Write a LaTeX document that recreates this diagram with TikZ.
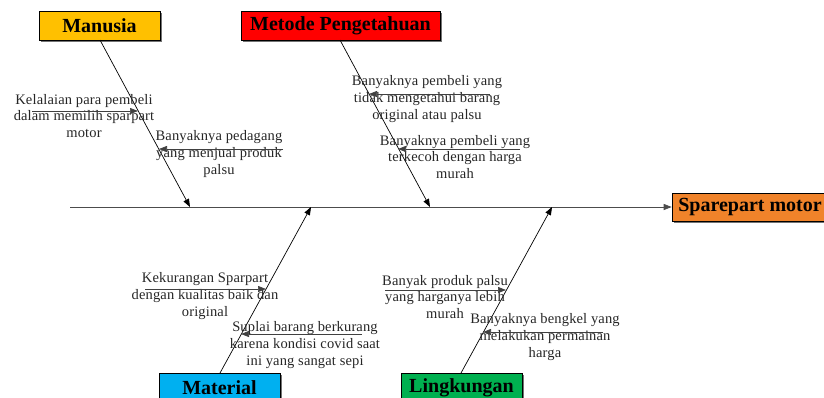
\documentclass[tikz,border=0pt]{standalone}
\usepackage{fontspec}
\setmainfont{Liberation Serif}
\newfontfamily\lblfont[LetterSpace=1]{Liberation Serif}
\usetikzlibrary{arrows.meta,shadows}
\definecolor{cman}{HTML}{FFC000}
\definecolor{cmet}{HTML}{FF0000}
\definecolor{cmat}{HTML}{00B0F0}
\definecolor{cling}{HTML}{00B050}
\definecolor{cspr}{HTML}{F0832A}
\tikzset{
  catbox/.style={draw=black, line width=0.6pt, minimum height=29pt, inner sep=0pt,
    font=\fontsize{20}{22}\selectfont\bfseries,
    drop shadow={shadow xshift=1.5pt, shadow yshift=-1.5pt, fill=black!55, opacity=1}},
  bone/.style={draw=black, line width=0.7pt, -{Triangle[length=8pt,width=6pt]}},
  rib/.style={draw=black!75, line width=0.7pt, -{Triangle[length=8pt,width=6pt]}},
  spine/.style={draw=black!70, line width=0.8pt, -{Triangle[length=8pt,width=6pt]}},
  lbl/.style={align=center, inner sep=0pt, font=\lblfont\fontsize{14.5}{16.6}\selectfont, text=black!85}
}
\begin{document}
\begin{tikzpicture}[x=1pt,y=-1pt]
\useasboundingbox (0,0) rectangle (824,397);
% category boxes
\node[catbox, fill=cman, minimum width=121pt] (man) at (99.5,25.5) {Manusia};
\node[catbox, fill=cmet, minimum width=199pt] (met) at (340.5,25.5) {Metode Pengetahuan};
\node[catbox, fill=cmat, minimum width=121pt] (mat) at (219.5,387.5) {Material};
\node[catbox, fill=cling, minimum width=121pt] (ling) at (461.5,387.5) {Lingkungan};
\node[catbox, fill=cspr, minimum width=156pt, minimum height=28pt] (spr) at (750,207) {Sparepart motor};
% spine
\coordinate (s0) at (70,207);
\draw[spine] (s0) -- (spr.west);
% bone end points on spine
\coordinate (m1) at (190,207);
\coordinate (m2) at (311,207);
\coordinate (m3) at (430,207);
\coordinate (m4) at (552,207);
\coordinate (b1) at (100,40);
\coordinate (b2) at (340,40);
\coordinate (b3) at (220,373);
\coordinate (b4) at (461,373);
\draw[bone] (b1) -- (m1);
\draw[bone] (b2) -- (m3);
\draw[bone] (b3) -- (m2);
\draw[bone] (b4) -- (m4);
% cause labels
\node[lbl] (t1) at (84,116) {Kelalaian para pembeli\\dalam memilih sparpart\\motor};
\node[lbl] (t2) at (219,154) {Banyaknya pedagang\\yang menjual produk\\palsu};
\node[lbl] (t3) at (427,99) {Banyaknya pembeli yang\\tidak mengetahui barang\\original atau palsu};
\node[lbl] (t4) at (455,157) {Banyaknya pembeli yang\\terkecoh dengan harga\\murah};
\node[lbl] (t5) at (205,296) {Kekurangan Sparpart\\dengan kualitas baik dan\\original};
\node[lbl] (t6) at (305,345) {Suplai barang berkurang\\karena kondisi covid saat\\ini yang sangat sepi};
\node[lbl] (t7) at (445,297) {Banyak produk palsu\\yang harganya lebih\\murah};
\node[lbl] (t8) at (545,337) {Banyaknya bengkel yang\\melakukan permainan\\harga};
% rib arrows
\coordinate (r1a) at (32,111);  \coordinate (r1b) at (138,111);
\coordinate (r2a) at (283,149); \coordinate (r2b) at (159,149);
\coordinate (r3a) at (490,94);  \coordinate (r3b) at (369,94);
\coordinate (r4a) at (520,149); \coordinate (r4b) at (398,149);
\coordinate (r5a) at (145,289); \coordinate (r5b) at (266,289);
\coordinate (r6a) at (362,334); \coordinate (r6b) at (241,334);
\coordinate (r7a) at (385,290); \coordinate (r7b) at (506,290);
\coordinate (r8a) at (603,332); \coordinate (r8b) at (483,332);
\foreach \i in {1,...,8} {\draw[rib] (r\i a) -- (r\i b);}
\end{tikzpicture}
\end{document}
